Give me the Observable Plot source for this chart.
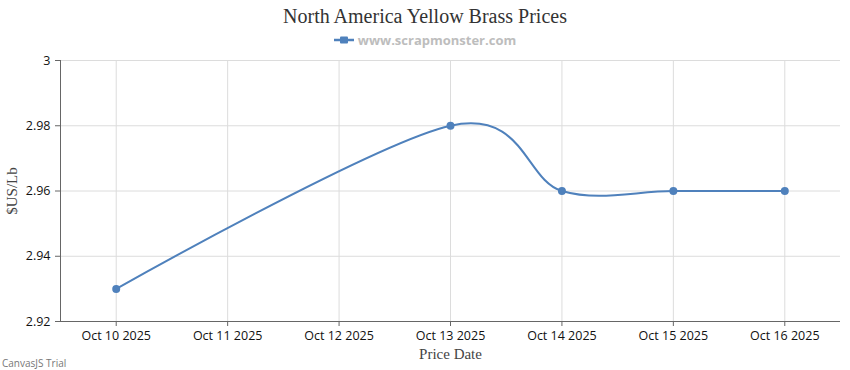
<!DOCTYPE html>
<html><head><meta charset="utf-8">
<script src="https://cdn.jsdelivr.net/npm/d3@7"></script>
<script src="https://cdn.jsdelivr.net/npm/@observablehq/plot@0.6"></script>
<style>
body{margin:0;background:#fff;}
#wrap{position:relative;width:850px;height:370px;overflow:hidden;background:#fff;}
#title{height:30px;text-align:center;font-family:"Liberation Serif",serif;font-size:20px;color:#333;line-height:32px;}
#legend{height:20px;display:flex;justify-content:center;align-items:center;font-family:"Open Sans",sans-serif;font-weight:bold;font-size:13px;color:#bdbdbd;}
#legend svg{margin-right:4px;}
#trial{position:absolute;left:2px;top:356px;font-family:"Open Sans",sans-serif;font-size:10px;color:#777;}
#chart svg{display:block;}
</style>
</head><body>
<div id="wrap">
  <div id="title"></div>
  <div id="legend"></div>
  <div id="chart"></div>
  <div id="trial"></div>
</div>
<script>
const titleText = "North America Yellow Brass Prices";
const legendText = "www.scrapmonster.com";
const trialText = "CanvasJS Trial";
const xLabel = "Price Date";
const yLabel = "$US/Lb";
const dates = ["2025-10-10", "2025-10-13", "2025-10-14", "2025-10-15", "2025-10-16"];
const prices = [2.93, 2.98, 2.96, 2.96, 2.96];
const xTickDates = ["2025-10-10", "2025-10-11", "2025-10-12", "2025-10-13", "2025-10-14", "2025-10-15", "2025-10-16"];
const yTicks = [2.92, 2.94, 2.96, 2.98, 3];
const xDomain = ["2025-10-09T12:00Z", "2025-10-16T12:00Z"];
const lineColor = "#4F81BC";

document.getElementById("title").textContent = titleText;
document.getElementById("trial").textContent = trialText;
const lg = document.getElementById("legend");
lg.innerHTML = `<svg width="20" height="10"><line x1="0" y1="5" x2="20" y2="5" stroke="${lineColor}" stroke-width="2.5"/><rect x="6" y="1.5" width="8" height="7" rx="1" fill="${lineColor}"/></svg><span></span>`;
lg.querySelector("span").textContent = legendText;

const data = dates.map((d, i) => ({date: new Date(d + "T00:00Z"), price: prices[i]}));
const xt = xTickDates.map(d => new Date(d + "T00:00Z"));
const fmtX = d3.utcFormat("%b %-d %Y");
const fmtY = d => String(+d.toFixed(2));
const font = "Open Sans, sans-serif";

const chart = Plot.plot({
  width: 850, height: 320,
  marginLeft: 60, marginRight: 10, marginTop: 10, marginBottom: 49,
  style: {fontFamily: font, fontSize: "12.5px", color: "#111", background: "#fff"},
  x: {type: "utc", domain: xDomain.map(d => new Date(d))},
  y: {domain: [yTicks[0], yTicks[yTicks.length - 1]]},
  marks: [
    Plot.gridX(xt, {stroke: "#dcdcdc", strokeOpacity: 1}),
    Plot.gridY(yTicks, {stroke: "#dcdcdc", strokeOpacity: 1}),
    Plot.axisX(xt, {tickFormat: fmtX, tickSize: 5, tickPadding: 5, label: null, stroke: "#666", fill: "#111", fontSize: 12.5}),
    Plot.axisY(yTicks, {tickFormat: fmtY, tickSize: 5, tickPadding: 5, label: null, stroke: "#666", fill: "#111", fontSize: 12.5}),
    Plot.ruleY([yTicks[0]], {stroke: "#666"}),
    Plot.ruleX([new Date(xDomain[0])], {stroke: "#666"}),
    Plot.text([yLabel], {frameAnchor: "left", dx: -48, rotate: -90, textAnchor: "middle", lineAnchor: "middle", fontFamily: "Liberation Serif, serif", fontSize: 15, fill: "#444"}),
    Plot.text([xLabel], {frameAnchor: "bottom", dy: 33, textAnchor: "middle", lineAnchor: "middle", fontFamily: "Liberation Serif, serif", fontSize: 15, fill: "#444"}),
    Plot.line(data, {x: "date", y: "price", curve: "cardinal", stroke: lineColor, strokeWidth: 2}),
    Plot.dot(data, {x: "date", y: "price", r: 4, fill: lineColor, stroke: "none"})
  ]
});
document.getElementById("chart").appendChild(chart);
</script>
</body></html>
